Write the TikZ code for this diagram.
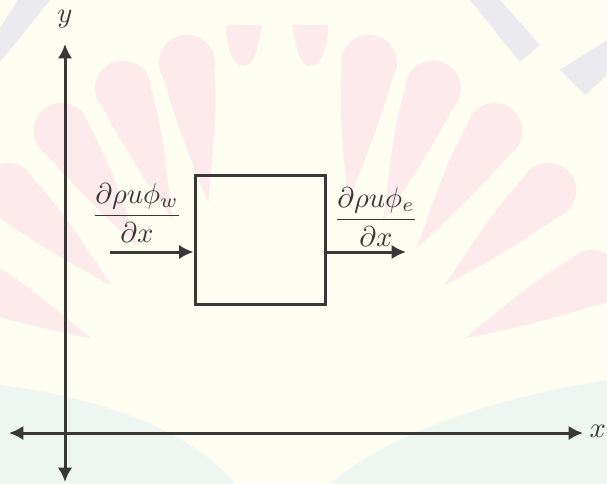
\documentclass[tikz,border=0pt]{standalone}
\usetikzlibrary{arrows.meta}
\definecolor{paper}{HTML}{FDFDF1}
\definecolor{petal}{HTML}{FCEAED}
\definecolor{mint}{HTML}{EEF6F1}
\definecolor{greyband}{HTML}{EBEBEF}
\definecolor{ink}{HTML}{383838}
\tikzset{
  axis/.style={draw=ink, line width=1.05pt, {Latex[length=5pt,width=5pt]}-{Latex[length=5pt,width=5pt]}},
  flow/.style={draw=ink, line width=1.05pt, -{Latex[length=5pt,width=5pt]}},
  cell/.style={draw=ink, line width=1.05pt},
  lbl/.style={inner sep=0pt, text=ink},
  petalL/.pic={\fill[petal] (-27,0) .. controls (-27,60) and (-22,105) .. (-18,140)
      .. controls (-2,95) and (18,55) .. (27,0) -- cycle;
    \fill[petal] (0,0) circle (28);},
  petalR/.pic={\fill[petal] (27,0) .. controls (27,60) and (22,105) .. (18,140)
      .. controls (2,95) and (-18,55) .. (-27,0) -- cycle;
    \fill[petal] (0,0) circle (28);}
}
\begin{document}
\begin{tikzpicture}[x=0.35pt, y=-0.35pt]
  % page and faint background emblem
  \fill[paper] (0,0) rectangle (607,484);
  \useasboundingbox (0,0) rectangle (607,484);
  \fill[mint] (0,385) .. controls (120,400) and (200,440) .. (235,484) -- (0,484) -- cycle;
  \fill[mint] (607,380) .. controls (480,400) and (380,440) .. (330,484) -- (607,484) -- cycle;
  \fill[greyband] (18,0) -- (50,0) -- (18,40) -- (0,62) -- (0,28) -- cycle;
  \fill[greyband] (470,0) -- (500,0) -- (540,45) -- (520,62) -- cycle;
  \fill[greyband] (607,40) -- (607,75) -- (585,95) -- (560,70) -- cycle;
  \foreach \a in {16,28,41,55,72}{
    \pic[rotate=\a] at ({278-330*sin(\a)},{380-330*cos(\a)}) {petalL};
    \pic[rotate=-\a] at ({278+330*sin(\a)},{380-330*cos(\a)}) {petalR};
  }
  \fill[petal] (226,25) -- (262,25) .. controls (258,45) and (255,66) .. (244,66)
    .. controls (232,66) and (226,45) .. cycle;
  \fill[petal] (292,25) -- (328,25) .. controls (328,45) and (322,66) .. (310,66)
    .. controls (299,66) and (296,45) .. cycle;

  % axes
  \coordinate (ytop) at (65,44);
  \coordinate (ybot) at (65,482);
  \coordinate (xleft) at (9,433);
  \coordinate (xright) at (583,433);
  \draw[axis] (ybot) -- (ytop);
  \draw[axis] (xleft) -- (xright);
  \node[lbl] (ylab) at (65,19) {$y$};
  \node[lbl, anchor=west] (xlab) at (589,431) {$x$};

  % control volume
  \node[cell, minimum width=130*0.35pt, minimum height=129*0.35pt, inner sep=0pt]
    (cv) at (260,239.5) {};

  % inflow and outflow
  \coordinate (inL) at (110,252);
  \coordinate (outR) at (406,252);
  \draw[flow] (inL) -- (inL -| cv.west);
  \draw[flow] (outR -| cv.east) -- (outR);
  \node[lbl] (fw) at (137,213) {$\displaystyle\frac{\partial\rho u\phi_w}{\partial x}$};
  \node[lbl] (fe) at (376,217) {$\displaystyle\frac{\partial\rho u\phi_e}{\partial x}$};
\end{tikzpicture}
\end{document}
